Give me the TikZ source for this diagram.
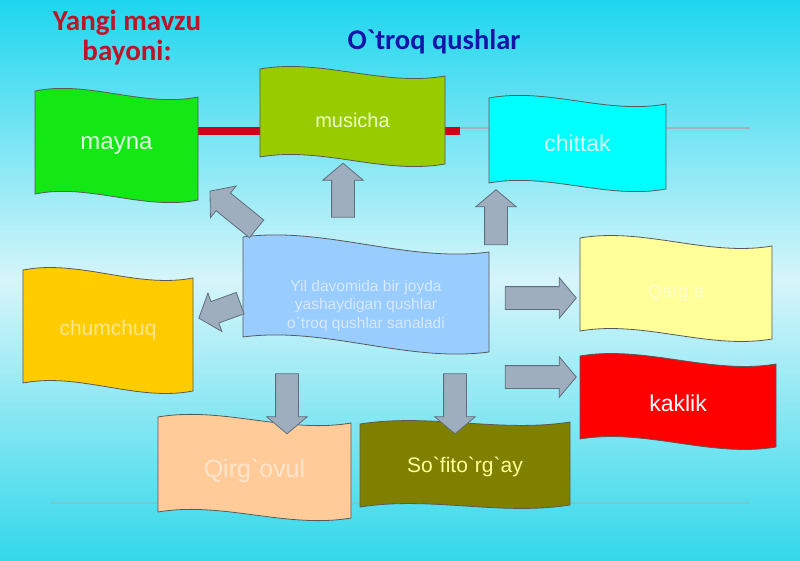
\documentclass[tikz,border=0pt]{standalone}
\usepackage{fontspec}
\setmainfont{Liberation Sans}[Ligatures=TeXOff]
\newfontfamily\titlefont{Carlito}[Ligatures=TeXOff]
\usetikzlibrary{calc,shapes.arrows}
\definecolor{bgtop}{RGB}{30,214,238}
\definecolor{bgmid}{RGB}{214,245,250}
\definecolor{bgbot}{RGB}{50,216,234}
\definecolor{cmayna}{RGB}{20,232,20}
\definecolor{cmusicha}{RGB}{153,204,0}
\definecolor{cchittak}{RGB}{0,255,255}
\definecolor{cchum}{RGB}{255,204,0}
\definecolor{ccenter}{RGB}{153,204,255}
\definecolor{cyel}{RGB}{255,255,153}
\definecolor{ckaklik}{RGB}{255,0,0}
\definecolor{cqirg}{RGB}{255,204,153}
\definecolor{csofi}{RGB}{128,128,0}
\definecolor{arrfill}{RGB}{158,174,190}
\definecolor{arrdraw}{RGB}{95,110,125}
\definecolor{titlered}{RGB}{190,20,40}
\definecolor{titleblue}{RGB}{20,20,170}
\definecolor{redline}{RGB}{210,0,20}
\definecolor{grayline}{RGB}{165,178,190}
\tikzset{
  flagshape/.style={draw=black!65, line width=0.8pt},
  flaglabel/.style={inner sep=0pt, align=center},
  blockarrow/.style={single arrow, draw=arrdraw, fill=arrfill, line width=0.8pt,
     single arrow head extend=9pt, single arrow head indent=0pt,
     inner xsep=0pt, inner ysep=11pt, single arrow tip angle=100},
}
% name, x, y, w, h, skew, fill, label style, text
\newcommand\wflag[9]{%
  \coordinate (#1-nw) at (#2,#3);
  \coordinate (#1-ne) at (#2+#4,#3+#6);
  \coordinate (#1-se) at (#2+#4,#3+#6+#5);
  \coordinate (#1-sw) at (#2,#3+#5);
  \filldraw[flagshape, fill=#7] (#1-nw) .. controls +(#4/3,-11) and +(-#4/3,11) .. (#1-ne)
     -- (#1-se) .. controls +(-#4/3,11) and +(#4/3,-11) .. (#1-sw) -- cycle;
  \node[flaglabel, #8] (#1) at ($(#1-nw)!0.5!(#1-se)$) {#9};
}
\begin{document}
\begin{tikzpicture}[x=1pt,y=-1pt]
\useasboundingbox (0,0) rectangle (800,561);
\shade[top color=bgtop, bottom color=bgbot, middle color=bgmid] (0,0) rectangle (800,561);

% titles
\node[font=\titlefont\bfseries\fontsize{29}{30}\selectfont, text=titlered, align=center] (t1) at (127,38) {Yangi mavzu\\bayoni:};
\node[font=\titlefont\bfseries\fontsize{28.5}{30}\selectfont, text=titleblue] (t2) at (434,42) {O`troq qushlar};

% lines
\coordinate (rl1) at (198,131);
\coordinate (rl2) at (460,131);
\coordinate (gl1) at (460,128);
\coordinate (gl2) at (750,128);
\coordinate (bl1) at (50,503);
\coordinate (bl2) at (750,503);
\draw[grayline, line width=2pt] (gl1) -- (gl2);
\draw[redline, line width=8pt] (rl1) -- (rl2);
\draw[grayline!70!cyan, line width=1.2pt] (bl1) -- (bl2);

% flags
\wflag{mayna}{35}{91}{163}{103}{6}{cmayna}{text={rgb,255:red,225;green,255;blue,225}, font=\fontsize{24}{28}\selectfont}{mayna}
\wflag{musicha}{260}{69}{185}{88}{7}{cmusicha}{text={rgb,255:red,235;green,255;blue,200}, font=\fontsize{20}{24}\selectfont, yshift=-3.5pt}{musicha}
\wflag{chittak}{489}{98}{177}{85}{6}{cchittak}{text={rgb,255:red,215;green,255;blue,255}, font=\fontsize{23}{28}\selectfont}{chittak}
\wflag{chum}{23}{270}{170}{113}{8}{cchum}{text={rgb,255:red,255;green,232;blue,140}, font=\fontsize{21}{26}\selectfont}{chumchuq}
\wflag{center}{243}{237}{246}{100}{15}{ccenter}{text={rgb,255:red,215;green,232;blue,255}, font=\fontsize{15.5}{18.5}\selectfont, yshift=-11pt}{Yil davomida bir joyda\\yashaydigan qushlar\\o`troq qushlar sanaladi}
\wflag{yel}{580}{238}{192}{93}{8}{cyel}{text={rgb,255:red,255;green,255;blue,205}, font=\fontsize{18}{22}\selectfont, yshift=-4pt}{Qarg`a}
\wflag{kaklik}{580}{356}{196}{83}{8}{ckaklik}{text=white, font=\fontsize{23}{28}\selectfont, yshift=-2pt}{kaklik}
\wflag{qirg}{158}{417}{193}{95}{6}{cqirg}{text={rgb,255:red,255;green,228;blue,205}, font=\fontsize{25}{28}\selectfont, yshift=-3pt}{Qirg`ovul}
\wflag{sofi}{360}{424}{210}{83}{-2}{csofi}{text={rgb,255:red,255;green,255;blue,153}, font=\fontsize{21}{24}\selectfont, yshift=-2pt}{So`fito`rg`ay}

% block arrows
\node[blockarrow, minimum height=60pt, rotate=141] (a1) at (237,213) {};
\node[blockarrow, minimum height=54pt, rotate=90] (a2) at (343,195) {};
\node[blockarrow, minimum height=55pt, rotate=90] (a3) at (496,222) {};
\node[blockarrow, minimum height=44pt, rotate=200] (a4) at (224,309) {};
\node[blockarrow, minimum height=71pt, rotate=0] (a5) at (536,298) {};
\node[blockarrow, minimum height=71pt, rotate=0] (a6) at (536,377) {};
\node[blockarrow, minimum height=60pt, rotate=270] (a7) at (287,399) {};
\node[blockarrow, minimum height=60pt, rotate=270] (a8) at (455,399) {};
\end{tikzpicture}
\end{document}
